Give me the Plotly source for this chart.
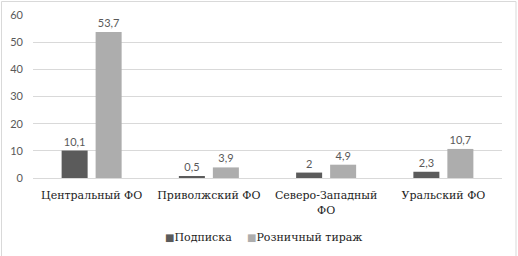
import plotly.graph_objects as go

categories = ["Центральный ФО", "Приволжский ФО", "Северо-Западный<br>ФО", "Уральский ФО"]
series_names = ["Подписка", "Розничный тираж"]
subscription = [10.1, 0.5, 2, 2.3]
retail = [53.7, 3.9, 4.9, 10.7]
y_ticks = [0, 10, 20, 30, 40, 50, 60]

colors = ["#5b5b5b", "#adadad"]
SERIF = "DejaVu Serif"
SANS = "Lato"


def fmt(v):
    return (f"{v:g}").replace(".", ",")


fig = go.Figure()
for name, vals, col in zip(series_names, [subscription, retail], colors):
    fig.add_trace(go.Bar(
        x=categories, y=vals, name=name,
        marker=dict(color=col, line=dict(width=0)),
        text=[fmt(v) for v in vals], textposition="outside",
        textfont=dict(family=SANS, size=11, color="#595959"),
        cliponaxis=False,
    ))

W, H = 518, 256
ml, mr, mt, mb = 33, 16, 15, 78
pw = W - ml - mr
ph = H - mt - mb
fig.update_layout(
    width=W, height=H,
    margin=dict(l=ml, r=mr, t=mt, b=mb, autoexpand=False),
    paper_bgcolor="white", plot_bgcolor="white",
    barmode="group", bargap=0.42, bargroupgap=0.235,
    showlegend=False,
)
fig.update_xaxes(
    showgrid=False, showline=True, linecolor="#d9d9d9", linewidth=1,
    ticks="", tickfont=dict(family=SERIF, size=11, color="#222222"),
    ticklabelstandoff=7, automargin=False,
)
fig.update_yaxes(
    range=[0, 60], tickvals=y_ticks, showgrid=True, gridcolor="#d9d9d9", gridwidth=1,
    zeroline=False, showline=False, ticks="",
    tickfont=dict(family=SANS, size=11, color="#595959"),
    ticklabelstandoff=9, automargin=False,
)

# legend built as annotations
legend_x = [163, 245]
legend_y = 237
for name, col, lx in zip(series_names, colors, legend_x):
    fig.add_annotation(
        xref="paper", yref="paper",
        x=(lx - ml) / pw, y=(H - mb - legend_y) / ph,
        xanchor="left", yanchor="middle", showarrow=False,
        text=f"<span style='color:{col};font-size:10px'>■</span>{name}",
        font=dict(family=SERIF, size=11, color="#222222"),
    )

fig.add_shape(type="rect", xref="paper", yref="paper",
              x0=(1.5 - ml) / pw, x1=(516 - ml) / pw,
              y0=(mb - 254.5) / ph, y1=(H - 1.5 - mb) / ph,
              line=dict(color="#d9d9d9", width=1), fillcolor="rgba(0,0,0,0)", layer="below")
fig.write_html("out.html", config={"displayModeBar": False},
               post_script="document.body.style.margin='0';document.body.style.padding='0';")
